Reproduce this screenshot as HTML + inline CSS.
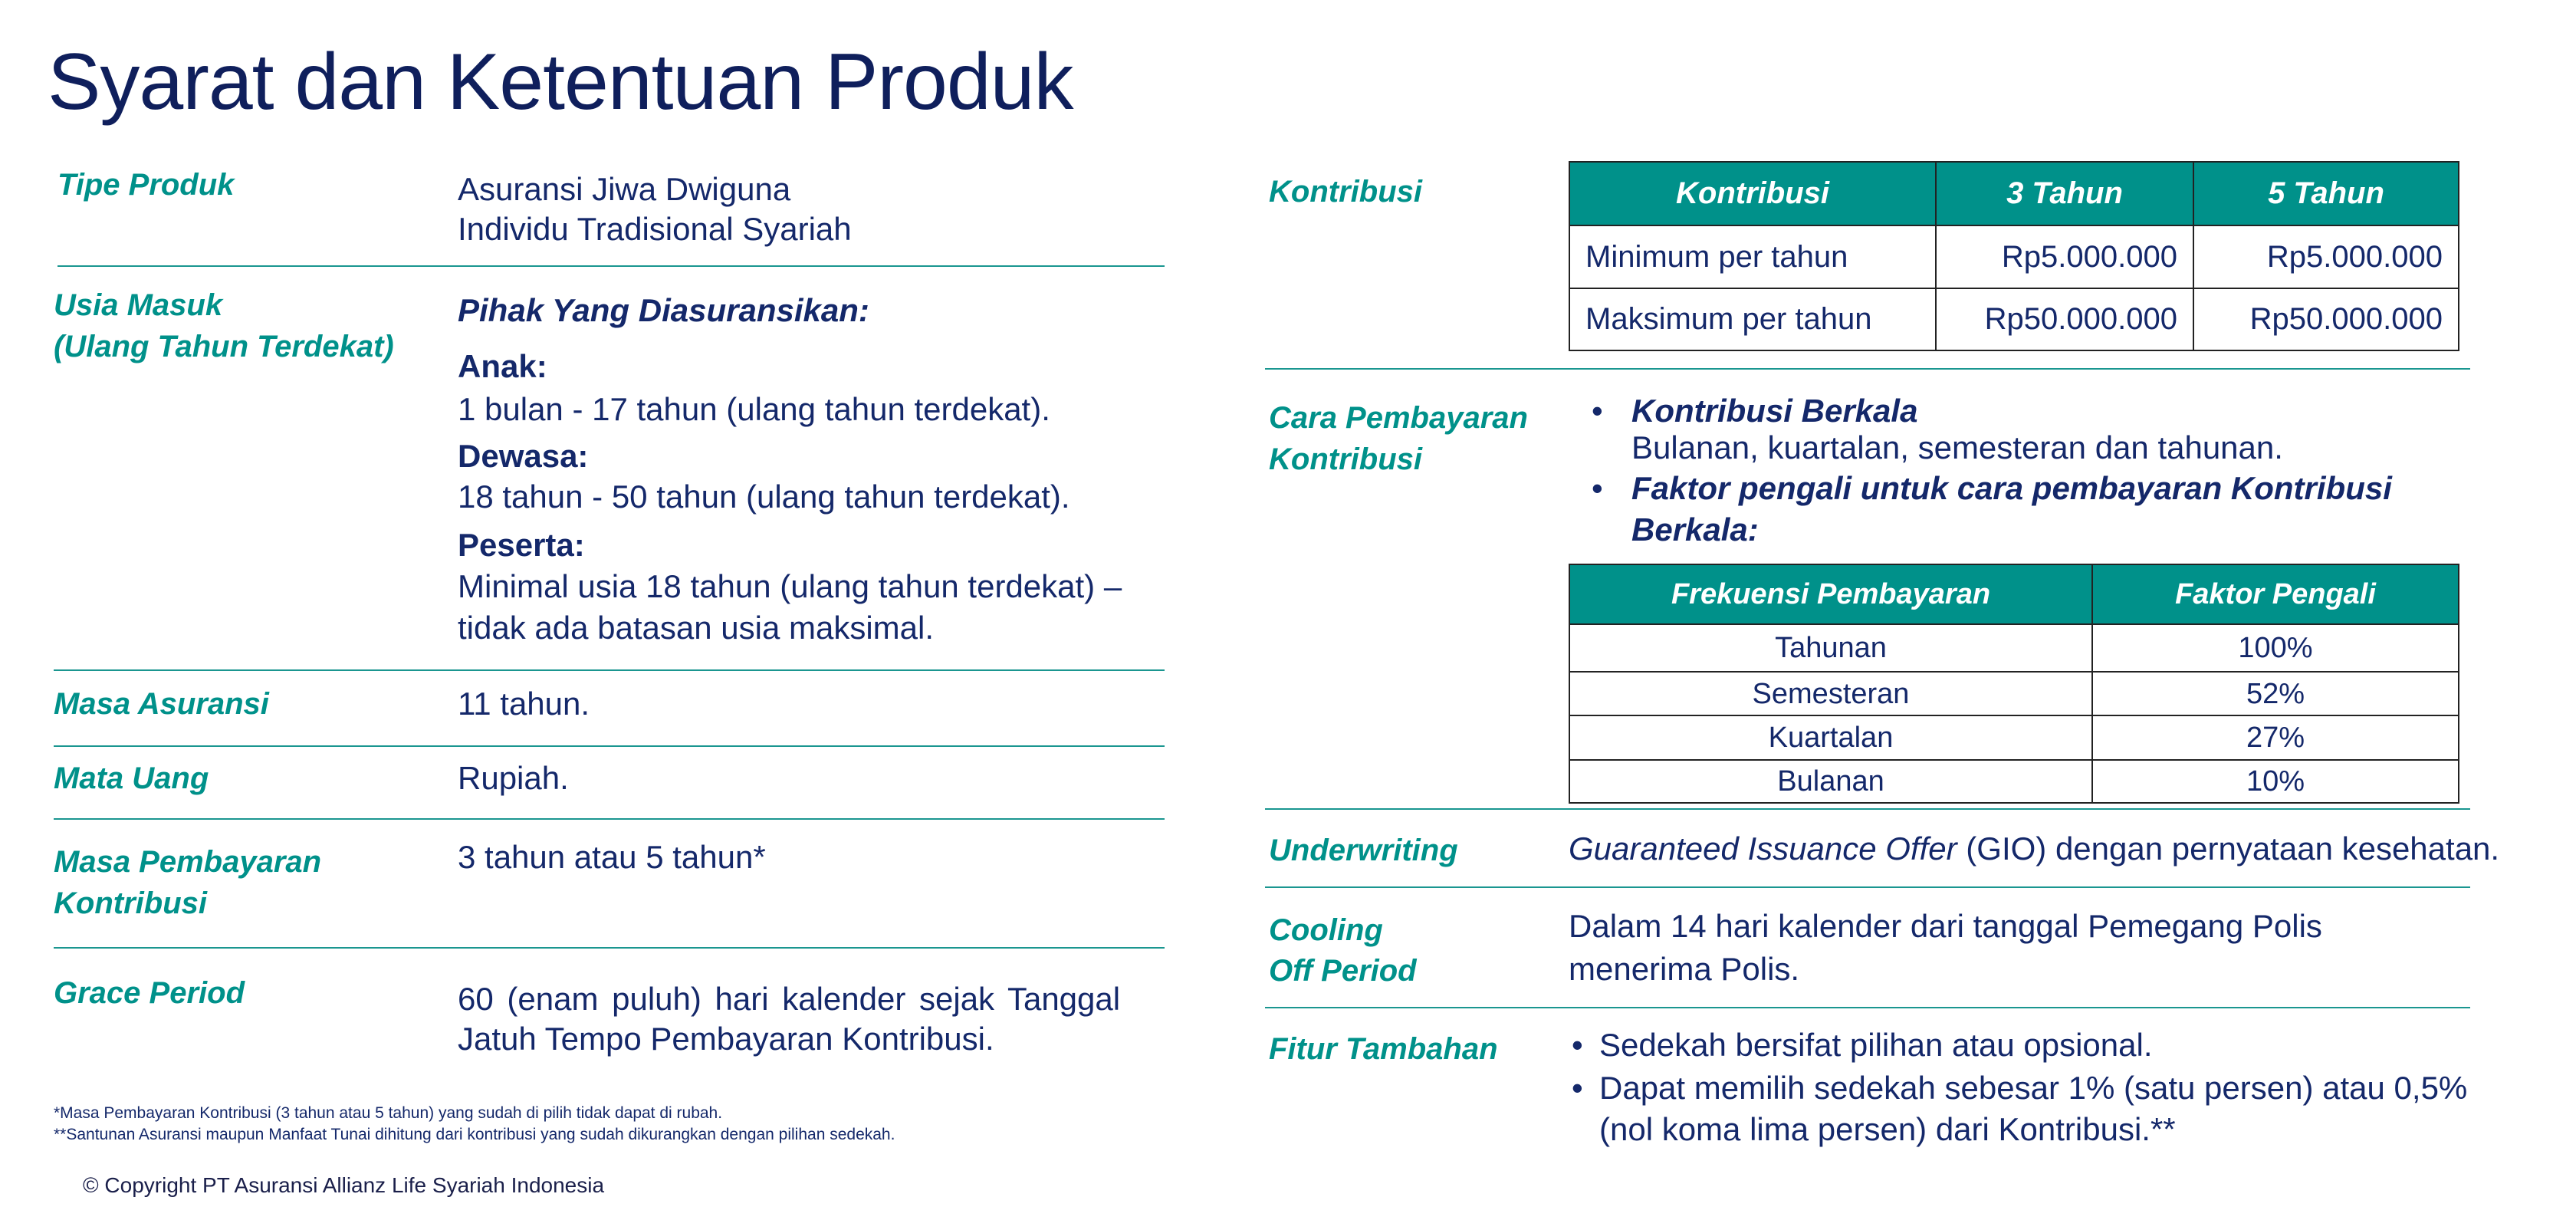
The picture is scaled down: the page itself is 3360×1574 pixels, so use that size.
<!DOCTYPE html>
<html><head><meta charset="utf-8"><style>
*{margin:0;padding:0;box-sizing:border-box}
body{width:3360px;height:1574px;background:#fff;position:relative;overflow:hidden;font-family:"Liberation Sans",sans-serif;color:#14286a}
.t{position:absolute;white-space:nowrap;font-size:42px;line-height:46px;color:#14286a}
.l{position:absolute;white-space:nowrap;font-size:40px;line-height:46px;color:#00918a;font-weight:bold;font-style:italic}
.b{font-weight:bold}
.bi{font-weight:bold;font-style:italic}
.hr{position:absolute;height:2px;background:#1a9690}
table{position:absolute;border-collapse:collapse;font-size:40px;color:#14286a;table-layout:fixed}
td,th{border:2px solid #222;padding:0 20px;white-space:nowrap;overflow:hidden}
th{background:#00918a;color:#fff;font-style:italic;font-weight:bold;text-align:center}
</style></head><body>
<div class="t" style="left:62px;top:42px;font-size:104px;line-height:130px;color:#0f1f5c;letter-spacing:-1px">Syarat dan Ketentuan Produk</div>

<div class="l" style="left:75px;top:218px">Tipe Produk</div>
<div class="t" style="left:597px;top:224px">Asuransi Jiwa Dwiguna</div>
<div class="t" style="left:597px;top:276px">Individu Tradisional Syariah</div>
<div class="hr" style="left:75px;top:346px;width:1444px"></div>

<div class="l" style="left:70px;top:375px">Usia Masuk</div>
<div class="l" style="left:70px;top:429px">(Ulang Tahun Terdekat)</div>
<div class="t bi" style="left:597px;top:382px">Pihak Yang Diasuransikan:</div>
<div class="t b" style="left:597px;top:455px">Anak:</div>
<div class="t" style="left:597px;top:511px">1 bulan - 17 tahun (ulang tahun terdekat).</div>
<div class="t b" style="left:597px;top:572px">Dewasa:</div>
<div class="t" style="left:597px;top:625px">18 tahun - 50 tahun (ulang tahun terdekat).</div>
<div class="t b" style="left:597px;top:688px">Peserta:</div>
<div class="t" style="left:597px;top:742px">Minimal usia 18 tahun (ulang tahun terdekat) –</div>
<div class="t" style="left:597px;top:796px">tidak ada batasan usia maksimal.</div>
<div class="hr" style="left:70px;top:873px;width:1449px"></div>

<div class="l" style="left:70px;top:895px">Masa Asuransi</div>
<div class="t" style="left:597px;top:895px">11 tahun.</div>
<div class="hr" style="left:70px;top:972px;width:1449px"></div>

<div class="l" style="left:70px;top:992px">Mata Uang</div>
<div class="t" style="left:597px;top:992px">Rupiah.</div>
<div class="hr" style="left:70px;top:1067px;width:1449px"></div>

<div class="l" style="left:70px;top:1101px">Masa Pembayaran</div>
<div class="l" style="left:70px;top:1155px">Kontribusi</div>
<div class="t" style="left:597px;top:1095px">3 tahun atau 5 tahun*</div>
<div class="hr" style="left:70px;top:1235px;width:1449px"></div>

<div class="l" style="left:70px;top:1272px">Grace Period</div>
<div class="t" style="left:597px;top:1280px;word-spacing:6px">60 (enam puluh) hari  kalender  sejak  Tanggal</div>
<div class="t" style="left:597px;top:1332px">Jatuh Tempo Pembayaran Kontribusi.</div>

<div class="t" style="left:70px;top:1439px;font-size:21px;line-height:26px">*Masa Pembayaran Kontribusi (3 tahun atau 5 tahun) yang sudah di pilih tidak dapat di rubah.</div>
<div class="t" style="left:70px;top:1467px;font-size:21px;line-height:26px">**Santunan Asuransi maupun Manfaat Tunai dihitung dari kontribusi yang sudah dikurangkan dengan pilihan sedekah.</div>
<div class="t" style="left:108px;top:1529px;font-size:28px;line-height:34px;color:#1a1f4a">© Copyright PT Asuransi Allianz Life Syariah Indonesia</div>

<!-- right -->
<div class="l" style="left:1655px;top:227px">Kontribusi</div>
<table style="left:2046px;top:210px;width:1160px">
<colgroup><col style="width:478px"><col style="width:336px"><col style="width:346px"></colgroup>
<tr style="height:83px"><th>Kontribusi</th><th>3 Tahun</th><th>5 Tahun</th></tr>
<tr style="height:82px"><td>Minimum per tahun</td><td style="text-align:right">Rp5.000.000</td><td style="text-align:right">Rp5.000.000</td></tr>
<tr style="height:81px"><td>Maksimum per tahun</td><td style="text-align:right">Rp50.000.000</td><td style="text-align:right">Rp50.000.000</td></tr>
</table>
<div class="hr" style="left:1650px;top:480px;width:1572px"></div>

<div class="l" style="left:1655px;top:522px">Cara Pembayaran</div>
<div class="l" style="left:1655px;top:576px">Kontribusi</div>
<div class="t" style="left:2076px;top:513px">•</div>
<div class="t bi" style="left:2128px;top:513px">Kontribusi Berkala</div>
<div class="t" style="left:2128px;top:561px">Bulanan, kuartalan, semesteran dan tahunan.</div>
<div class="t" style="left:2076px;top:614px">•</div>
<div class="t bi" style="left:2128px;top:614px">Faktor pengali untuk cara pembayaran Kontribusi</div>
<div class="t bi" style="left:2128px;top:668px">Berkala:</div>

<table style="left:2046px;top:735px;width:1160px;font-size:38px;line-height:40px">
<colgroup><col style="width:682px"><col style="width:478px"></colgroup>
<tr style="height:78px"><th>Frekuensi Pembayaran</th><th>Faktor Pengali</th></tr>
<tr style="height:62px"><td style="text-align:center">Tahunan</td><td style="text-align:center">100%</td></tr>
<tr style="height:57px"><td style="text-align:center">Semesteran</td><td style="text-align:center">52%</td></tr>
<tr style="height:58px"><td style="text-align:center">Kuartalan</td><td style="text-align:center">27%</td></tr>
<tr style="height:56px"><td style="text-align:center">Bulanan</td><td style="text-align:center">10%</td></tr>
</table>
<div class="hr" style="left:1650px;top:1054px;width:1572px"></div>

<div class="l" style="left:1655px;top:1086px">Underwriting</div>
<div class="t" style="left:2046px;top:1084px"><i>Guaranteed Issuance Offer</i> (GIO) dengan pernyataan kesehatan.</div>
<div class="hr" style="left:1650px;top:1156px;width:1572px"></div>

<div class="l" style="left:1655px;top:1190px">Cooling</div>
<div class="l" style="left:1655px;top:1243px">Off Period</div>
<div class="t" style="left:2046px;top:1185px">Dalam 14 hari kalender dari tanggal Pemegang Polis</div>
<div class="t" style="left:2046px;top:1241px">menerima Polis.</div>
<div class="hr" style="left:1650px;top:1313px;width:1572px"></div>

<div class="l" style="left:1655px;top:1345px">Fitur Tambahan</div>
<div class="t" style="left:2050px;top:1340px">•</div>
<div class="t" style="left:2086px;top:1340px">Sedekah bersifat pilihan atau opsional.</div>
<div class="t" style="left:2050px;top:1396px">•</div>
<div class="t" style="left:2086px;top:1396px">Dapat memilih sedekah sebesar 1% (satu persen) atau 0,5%</div>
<div class="t" style="left:2086px;top:1450px">(nol koma lima persen) dari Kontribusi.**</div>
</body></html>
